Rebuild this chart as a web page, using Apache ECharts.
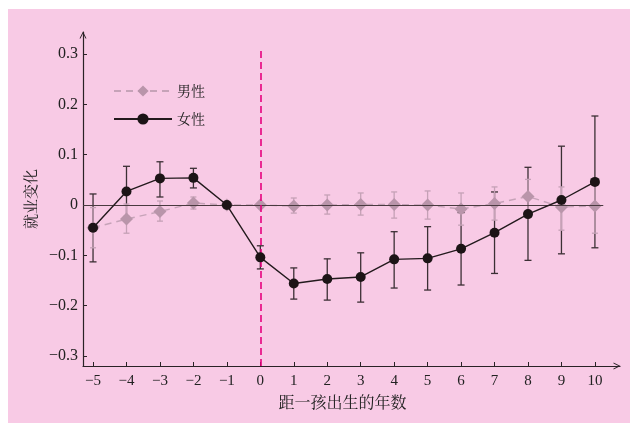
<!DOCTYPE html>
<html>
<head>
<meta charset="utf-8">
<script src="https://cdn.jsdelivr.net/npm/echarts@6/dist/echarts.min.js"></script>
<style>
  html, body { margin: 0; padding: 0; background: #ffffff; }
  #chart { position: absolute; left: 8px; top: 9px; width: 622px; height: 414px; background: #f8cae5; }
</style>
</head>
<body>
<div id="chart"></div>
<script>
// Years relative to the first child's birth
const years = [-5, -4, -3, -2, -1, 0, 1, 2, 3, 4, 5, 6, 7, 8, 9, 10];

// Women: point estimates and confidence bounds (year -1 is the reference)
const femaleEst  = [-0.045, 0.027, 0.053, 0.054, 0, -0.104, -0.156, -0.147, -0.143, -0.108, -0.106, -0.087, -0.055, -0.018, 0.010, 0.046];
const femaleLow  = [-0.113, -0.023, 0.016, 0.034, null, -0.127, -0.187, -0.189, -0.193, -0.165, -0.169, -0.159, -0.136, -0.110, -0.097, -0.085];
const femaleHigh = [0.022, 0.077, 0.086, 0.073, null, -0.081, -0.125, -0.107, -0.095, -0.053, -0.043, -0.015, 0.026, 0.075, 0.117, 0.177];

// Men: point estimates and confidence bounds
const maleEst  = [-0.045, -0.028, -0.013, 0.004, 0, 0, -0.002, 0, 0.001, 0.001, 0, -0.008, 0.003, 0.017, -0.004, -0.002];
const maleLow  = [-0.085, -0.056, -0.032, -0.008, null, null, -0.016, -0.018, -0.020, -0.026, -0.028, -0.040, -0.030, -0.020, -0.050, -0.056];
const maleHigh = [-0.005, 0.002, 0.008, 0.016, null, null, 0.014, 0.020, 0.024, 0.026, 0.028, 0.024, 0.036, 0.051, 0.036, 0.052];

// Axis tick values
const xTicks = [-5, -4, -3, -2, -1, 0, 1, 2, 3, 4, 5, 6, 7, 8, 9, 10];
const yTicks = [-0.3, -0.2, -0.1, 0, 0.1, 0.2, 0.3];

const seriesNames = ['男性', '女性'];

function pairs(est) {
  return years.map((x, i) => [x, est[i]]);
}
function bars(low, high) {
  const out = [];
  years.forEach((x, i) => {
    if (low[i] != null && high[i] != null) out.push([x, low[i], high[i]]);
  });
  return out;
}
function errorRenderer(color, capHalf, width) {
  return function (params, api) {
    const x = api.value(0);
    const top = api.coord([x, api.value(2)]);
    const bot = api.coord([x, api.value(1)]);
    const st = { stroke: color, lineWidth: width };
    return {
      type: 'group',
      children: [
        { type: 'line', shape: { x1: top[0], y1: top[1], x2: bot[0], y2: bot[1] }, style: st },
        { type: 'line', shape: { x1: top[0] - capHalf, y1: top[1], x2: top[0] + capHalf, y2: top[1] }, style: st },
        { type: 'line', shape: { x1: bot[0] - capHalf, y1: bot[1], x2: bot[0] + capHalf, y2: bot[1] }, style: st }
      ]
    };
  };
}
function minusSign(v) {
  const s = String(Math.round(v * 10) / 10);
  return s.replace('-', '\u2212');
}

const axisColor = '#2a2226';
const chevron = 'path://M0,10 L5,0 L10,10 L8.6,10 L5,2.8 L1.4,10 Z';
const serif = '"Liberation Serif", "Times New Roman", serif';
const cjk = '"Noto Serif CJK SC", "Noto Sans CJK SC", sans-serif';

const chart = echarts.init(document.getElementById('chart'));
chart.setOption({
  backgroundColor: '#f8cae5',
  animation: false,
  grid: { left: 75, top: 23, width: 537, height: 334 },
  legend: {
    data: seriesNames,
    orient: 'vertical',
    left: 100,
    top: 70,
    itemWidth: 58,
    itemHeight: 14,
    itemGap: 14,
    textStyle: { fontFamily: cjk, fontSize: 14, color: '#222' }
  },
  xAxis: {
    type: 'value',
    min: -5.3,
    max: 10.75,
    name: '距一孩出生的年数',
    nameLocation: 'middle',
    nameGap: 28,
    nameTextStyle: { fontFamily: cjk, fontSize: 16, color: '#222', padding: [0, 18, 0, 0] },
    splitLine: { show: false },
    axisLine: { onZero: false, lineStyle: { color: axisColor, width: 1.2 }, symbol: ['none', chevron], symbolSize: [10, 7], symbolOffset: [0, -3] },
    axisTick: { inside: true, length: 4, lineStyle: { color: axisColor }, customValues: xTicks },
    axisLabel: { customValues: xTicks, margin: 8, fontFamily: serif, fontSize: 15, color: '#222', formatter: minusSign }
  },
  yAxis: {
    type: 'value',
    min: -0.32,
    max: 0.344,
    name: '就业变化',
    nameLocation: 'middle',
    nameRotate: 90,
    nameGap: 42,
    nameTextStyle: { fontFamily: cjk, fontSize: 15, color: '#222' },
    splitLine: { show: false },
    axisLine: { onZero: false, lineStyle: { color: axisColor, width: 1.2 }, symbol: ['none', chevron], symbolSize: [9, 7], symbolOffset: [0, -3] },
    axisTick: { inside: true, length: 4, lineStyle: { color: axisColor }, customValues: yTicks },
    axisLabel: { customValues: yTicks, margin: 5, fontFamily: serif, fontSize: 16, color: '#222', formatter: minusSign }
  },
  series: [
    {
      // reference lines: zero level and the birth year
      type: 'line',
      data: [],
      z: 1,
      silent: true,
      markLine: {
        silent: true,
        symbol: 'none',
        label: { show: false },
        animation: false,
        data: [
          [{ coord: [-5.3, 0], lineStyle: { color: '#4a3a40', width: 1.2, type: 'solid' } }, { coord: [10.25, 0] }],
          [{ coord: [0, -0.32], lineStyle: { color: '#e6007e', width: 1.6, type: [7, 4] } }, { coord: [0, 0.314] }]
        ]
      }
    },
    {
      name: '女性-ci',
      type: 'custom',
      z: 2,
      data: bars(femaleLow, femaleHigh),
      encode: { x: 0, y: [1, 2] },
      renderItem: errorRenderer('#3b2f34', 3.5, 1.3)
    },
    {
      name: '男性-ci',
      type: 'custom',
      z: 3,
      data: bars(maleLow, maleHigh),
      encode: { x: 0, y: [1, 2] },
      renderItem: errorRenderer('#c5a1b6', 3, 1.3)
    },
    {
      name: '男性',
      type: 'line',
      z: 4,
      data: pairs(maleEst),
      symbol: 'diamond',
      symbolSize: 13,
      itemStyle: { color: '#b995aa' },
      lineStyle: { color: '#c6a3b8', width: 1.4, type: [7, 5] }
    },
    {
      name: '女性',
      type: 'line',
      z: 5,
      data: pairs(femaleEst),
      symbol: 'circle',
      symbolSize: 10,
      itemStyle: { color: '#1c1416' },
      lineStyle: { color: '#231a1d', width: 1.4 }
    }
  ]
});
</script>
</body>
</html>
